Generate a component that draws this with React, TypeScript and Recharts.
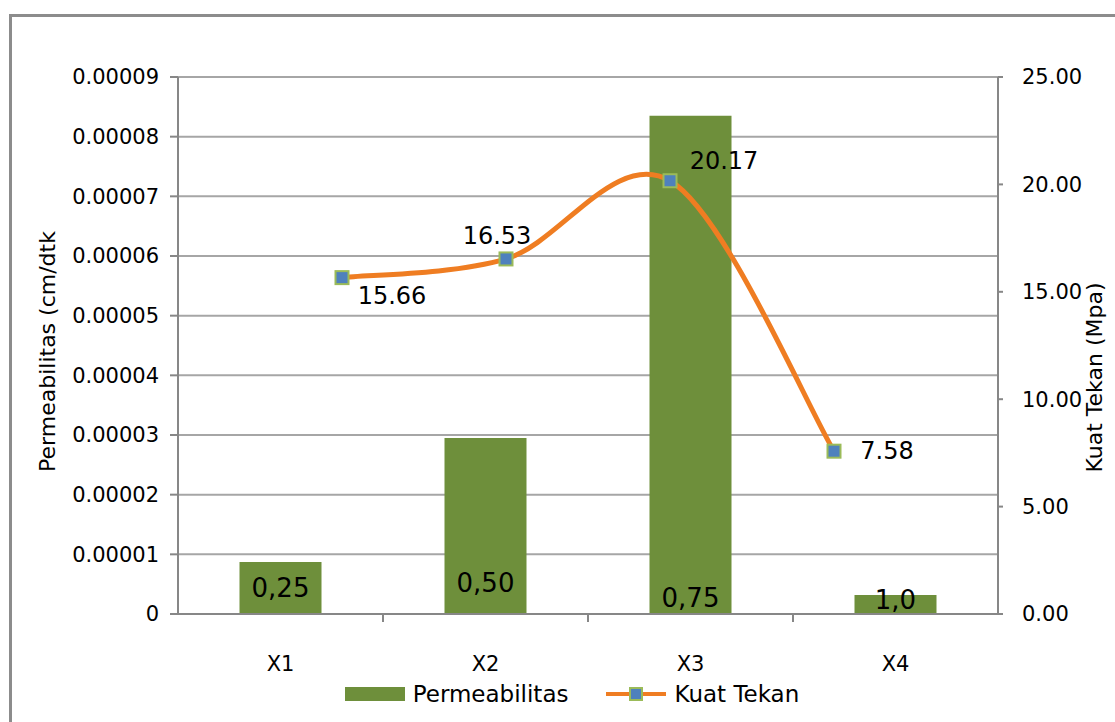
import React from 'react';
import { ComposedChart, Bar, Line, XAxis, YAxis, CartesianGrid, Legend, LabelList } from 'recharts';

const categories = ['X1', 'X2', 'X3', 'X4'];
const permeabilitas = [0.0000087, 0.0000295, 0.0000835, 0.0000032];
const kuatTekan = [15.66, 16.53, 20.17, 7.58];
const barLabels = ['0,25', '0,50', '0,75', '1,0'];
const leftTicks = [0, 0.00001, 0.00002, 0.00003, 0.00004, 0.00005, 0.00006, 0.00007, 0.00008, 0.00009];
const rightTicks = [0, 5, 10, 15, 20, 25];

const GREEN = '#6e8f3b';
const ORANGE = '#ef7d22';
const BLUE = '#4f81bd';
const MARKER_EDGE = '#9bbb59';
const AXIS = '#878787';
const FONT = '"DejaVu Sans", sans-serif';

// Excel draws the line on a secondary category axis, so its points sit at 1/5..4/5 of the width
const chartData = categories.map((name, i) => ({
    name,
    perm: permeabilitas[i],
    kuat: kuatTekan[i],
    label: barLabels[i],
    pos: i + 1,
}));

// Excel-style smoothed line (Catmull-Rom as cubic beziers)
const excelSmooth = (context: any) => {
    let pts: number[][] = [];
    return {
        areaStart() {},
        areaEnd() {},
        lineStart() { pts = []; },
        point(x: number, y: number) { pts.push([+x, +y]); },
        lineEnd() {
            const n = pts.length;
            if (!n) return;
            context.moveTo(pts[0][0], pts[0][1]);
            for (let i = 0; i < n - 1; i++) {
                const p0 = pts[Math.max(i - 1, 0)];
                const p1 = pts[i];
                const p2 = pts[i + 1];
                const p3 = pts[Math.min(i + 2, n - 1)];
                context.bezierCurveTo(
                    p1[0] + (p2[0] - p0[0]) / 6, p1[1] + (p2[1] - p0[1]) / 6,
                    p2[0] - (p3[0] - p1[0]) / 6, p2[1] - (p3[1] - p1[1]) / 6,
                    p2[0], p2[1],
                );
            }
        },
    };
};

const SquareDot = (props: any) => {
    const { cx, cy } = props;
    if (cx == null || cy == null) return null;
    return <rect x={cx - 6.5} y={cy - 6.5} width={13} height={13} fill={BLUE} stroke={MARKER_EDGE} strokeWidth={2} />;
};

const KuatLabel = (props: any) => {
    const { x, y, index, value } = props;
    // nudge each label like the original
    const shifts = [[50, 18], [-9, -23], [54, -20], [53, 0]];
    const [dx, dy] = shifts[index] || [0, 0];
    return (
        <text x={x + dx} y={y + dy} textAnchor="middle" dominantBaseline="central" fontSize={24} fontFamily={FONT} fill="#000">
            {Number(value).toFixed(2)}
        </text>
    );
};

const BarText = (props: any) => {
    const { x, y, width, height, value, index } = props;
    const lift = [26, 31, 16, 14][index] ?? 20;
    return (
        <text x={x + width / 2} y={y + height - lift} textAnchor="middle" dominantBaseline="central" fontSize={26} fontFamily={FONT} fill="#000">
            {value}
        </text>
    );
};

// category label plus the small tick mark on the boundary to its right
const XTick = (props: any) => {
    const { x, y, payload, index, visibleTicksCount } = props;
    const axisY = y - 38;
    const half = payload.offset || 0;
    return (
        <g>
            <text x={x} y={y + 12} textAnchor="middle" dominantBaseline="central" fontSize={21} fontFamily={FONT} fill="#000">
                {payload.value}
            </text>
            {index < (visibleTicksCount ?? 4) - 1 && (
                <line x1={x + half} x2={x + half} y1={axisY} y2={axisY + 8} stroke={AXIS} strokeWidth={2} />
            )}
        </g>
    );
};

const LegendContent = () => (
    <div style={{ display: 'flex', justifyContent: 'center', alignItems: 'center', fontFamily: FONT, fontSize: 23, color: '#000', paddingLeft: 29 }}>
        <svg width={60} height={16} style={{ marginRight: 8 }}>
            <rect x={0} y={1} width={60} height={14} fill={GREEN} />
        </svg>
        <span style={{ marginRight: 38 }}>Permeabilitas</span>
        <svg width={60} height={16} style={{ marginRight: 8 }}>
            <line x1={0} y1={8} x2={60} y2={8} stroke={ORANGE} strokeWidth={4} />
            <rect x={24} y={2} width={12} height={12} fill={BLUE} stroke={MARKER_EDGE} strokeWidth={2} />
        </svg>
        <span>Kuat Tekan</span>
    </div>
);

const LeftTitle = (props: any) => {
    const { viewBox } = props;
    const cx = viewBox.x + 47;
    const cy = viewBox.y + viewBox.height / 2 + 6;
    return (
        <text x={cx} y={cy} transform={`rotate(-90, ${cx}, ${cy})`} textAnchor="middle" dominantBaseline="central" fontSize={22} fontFamily={FONT} fill="#000">
            Permeabilitas (cm/dtk
        </text>
    );
};

const RightTitle = (props: any) => {
    const { viewBox } = props;
    const cx = viewBox.x + 96;
    const cy = viewBox.y + viewBox.height / 2 + 32;
    return (
        <text x={cx} y={cy} transform={`rotate(-90, ${cx}, ${cy})`} textAnchor="middle" dominantBaseline="central" fontSize={22} fontFamily={FONT} fill="#000">
            Kuat Tekan (Mpa)
        </text>
    );
};

const App: React.FC = () => {
    const tickStyle = { fontSize: 21, fontFamily: FONT, fill: '#000' };
    return (
        <div style={{ position: 'fixed', left: 0, top: 0, width: 1115, height: 722, overflow: 'hidden', background: '#fff' }}>
            <div style={{ position: 'absolute', left: 9, top: 14, width: 1200, height: 800, border: '3px solid #8c8c8c', boxSizing: 'border-box' }} />
            <div style={{ position: 'absolute', left: 0, top: 0 }}>
                <ComposedChart width={1115} height={722} data={chartData} margin={{ top: 77, right: 17, bottom: 48, left: 0 }} barCategoryGap="30%">
                    <CartesianGrid yAxisId="left" xAxisId="cat" vertical={false} stroke="#a6a6a6" strokeWidth={2} />
                    <XAxis xAxisId="cat" dataKey="name" height={60} tickLine={false} tickSize={0} tickMargin={38}
                        axisLine={{ stroke: AXIS, strokeWidth: 2 }} tick={<XTick />} interval={0} />
                    <XAxis xAxisId="pos" dataKey="pos" type="number" domain={[0, 5]} hide />
                    <YAxis yAxisId="left" width={178} domain={[0, 0.00009]} ticks={leftTicks} interval={0}
                        tickFormatter={(v: number) => (v === 0 ? '0' : v.toFixed(5))}
                        tick={tickStyle} tickSize={8} tickMargin={11}
                        axisLine={{ stroke: AXIS, strokeWidth: 2 }} tickLine={{ stroke: AXIS, strokeWidth: 2 }}
                        label={<LeftTitle />} />
                    <YAxis yAxisId="right" orientation="right" width={100} domain={[0, 25]} ticks={rightTicks} interval={0}
                        tickFormatter={(v: number) => v.toFixed(2)}
                        tick={{ ...tickStyle, textAnchor: 'start' }} tickSize={5} tickMargin={19}
                        axisLine={{ stroke: AXIS, strokeWidth: 2 }} tickLine={{ stroke: AXIS, strokeWidth: 2 }}
                        label={<RightTitle />} />
                    <Bar xAxisId="cat" yAxisId="left" dataKey="perm" name="Permeabilitas" fill={GREEN} isAnimationActive={false}>
                        <LabelList dataKey="label" content={<BarText />} />
                    </Bar>
                    <Line xAxisId="pos" yAxisId="right" dataKey="kuat" name="Kuat Tekan" type={excelSmooth as any} stroke={ORANGE} strokeWidth={5}
                        dot={<SquareDot />} activeDot={false} isAnimationActive={false}>
                        <LabelList dataKey="kuat" content={<KuatLabel />} />
                    </Line>
                    <Legend layout="horizontal" verticalAlign="middle" align="center" content={<LegendContent />}
                        wrapperStyle={{ top: 681, left: 0, width: 1115 }} />
                </ComposedChart>
            </div>
        </div>
    );
};

export default App;
